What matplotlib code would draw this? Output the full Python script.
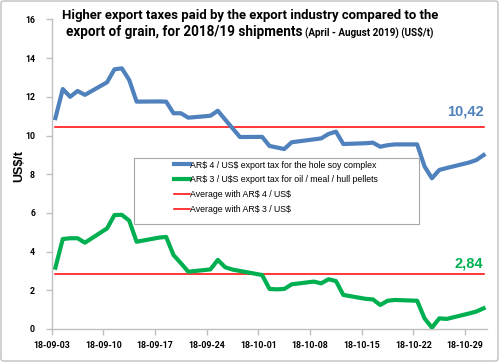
import matplotlib
matplotlib.use("Agg")
import matplotlib.pyplot as plt
import matplotlib.dates as mdates
from matplotlib import font_manager
from matplotlib.patches import Rectangle, FancyBboxPatch
import pandas as pd

plt.rcParams["text.parse_math"] = False

# ---------------- data ----------------
dates = ["2018-09-03", "2018-09-04", "2018-09-05", "2018-09-06", "2018-09-07",
         "2018-09-10", "2018-09-11", "2018-09-12", "2018-09-13", "2018-09-14",
         "2018-09-17", "2018-09-18", "2018-09-19", "2018-09-20", "2018-09-21",
         "2018-09-24", "2018-09-25", "2018-09-26", "2018-09-27", "2018-09-28",
         "2018-10-01", "2018-10-02", "2018-10-03", "2018-10-04", "2018-10-05",
         "2018-10-08", "2018-10-09", "2018-10-10", "2018-10-11", "2018-10-12",
         "2018-10-15", "2018-10-16", "2018-10-17", "2018-10-18", "2018-10-19",
         "2018-10-22", "2018-10-23", "2018-10-24", "2018-10-25", "2018-10-26",
         "2018-10-29", "2018-10-30", "2018-10-31"]

soy_complex = [10.9, 12.4, 12.0, 12.3, 12.1,
               12.75, 13.42, 13.47, 12.87, 11.75,
               11.76, 11.75, 11.15, 11.15, 10.92,
               11.02, 11.28, 10.82, 10.37, 9.92,
               9.93, 9.46, 9.38, 9.30, 9.65,
               9.80, 9.85, 10.08, 10.20, 9.56,
               9.60, 9.63, 9.42, 9.50, 9.54,
               9.54, 8.40, 7.79, 8.22, 8.32,
               8.60, 8.73, 8.99]

oil_meal_pellets = [3.17, 4.65, 4.69, 4.69, 4.46,
                    5.20, 5.89, 5.90, 5.60, 4.51,
                    4.72, 4.76, 3.82, 3.40, 2.96,
                    3.08, 3.57, 3.19, 3.07, 3.00,
                    2.79, 2.07, 2.05, 2.07, 2.31,
                    2.45, 2.36, 2.57, 2.48, 1.76,
                    1.56, 1.53, 1.24, 1.46, 1.50,
                    1.46, 0.55, 0.07, 0.55, 0.52,
                    0.80, 0.90, 1.07]

avg_soy = 10.42
avg_oil = 2.84

series_labels = ["AR$ 4 / US$ export tax for the hole soy complex",
                 "AR$ 3 / U$S export tax for oil / meal / hull pellets",
                 "Average with AR$ 4 / US$",
                 "Average with AR$ 3 / US$"]

title_line1 = "Higher export taxes paid by the export industry compared to the"
title_line2a = "export of grain, for 2018/19 shipments"
title_line2b = "(April - August 2019) (US$/t)"
y_label = "US$/t"

# ---------------- fonts ----------------
names = {f.name for f in font_manager.fontManager.ttflist}
NARROW = "Roboto" if "Roboto" in names else "DejaVu Sans"
ARIAL = "Liberation Sans" if "Liberation Sans" in names else "DejaVu Sans"

BLUE = "#4F81BD"
GREEN = "#00B050"
RED = "#FF0000"
GREY = "#A6A6A6"

W, H = 500, 363
fig = plt.figure(figsize=(W / 100, H / 100), dpi=100)
fig.patch.set_facecolor("white")
renderer = fig.canvas.get_renderer()


def fx(px):
    return px / W


def fy(py):
    return 1 - py / H


def fit_size(s, target_px, family, weight="bold", base=10.0):
    t = fig.text(0, 0, s, fontsize=base, family=family, fontweight=weight)
    w = t.get_window_extent(renderer).width
    t.remove()
    return base * target_px / w


ax = fig.add_axes([fx(51.7), fy(329), fx(487.3) - fx(51.7), fy(19.4) - fy(329)])

x = pd.to_datetime(dates) + pd.Timedelta(hours=12)

l1, = ax.plot(x, soy_complex, color=BLUE, lw=3.0, solid_joinstyle="round", zorder=3)
l2, = ax.plot(x, oil_meal_pellets, color=GREEN, lw=3.0, solid_joinstyle="round", zorder=3)
l3, = ax.plot([x[0], x[-1]], [avg_soy, avg_soy], color=RED, lw=1.1, zorder=2)
l4, = ax.plot([x[0], x[-1]], [avg_oil, avg_oil], color=RED, lw=1.1, zorder=2)

ax.set_ylim(0, 16)
ax.set_yticks(range(0, 17, 2))
ax.set_xlim(pd.Timestamp("2018-09-03"), pd.Timestamp("2018-11-01"))
ax.xaxis.set_major_locator(mdates.WeekdayLocator(byweekday=mdates.MO))
ax.xaxis.set_major_formatter(mdates.DateFormatter("%y-%m-%d"))

for s in ["top", "right"]:
    ax.spines[s].set_visible(False)
for s in ["left", "bottom"]:
    ax.spines[s].set_color("#BFBFBF")
    ax.spines[s].set_linewidth(1.0)
ax.tick_params(axis="both", colors="#BFBFBF", length=4, width=1.0, labelcolor="black")
ax.tick_params(axis="y", pad=8)
ax.tick_params(axis="x", pad=5)

tick_fs = fit_size("18-09-03", 37, NARROW)
for lab in ax.get_xticklabels() + ax.get_yticklabels():
    lab.set_fontweight("bold")
    lab.set_fontsize(tick_fs)
    lab.set_family(NARROW)

fig.text(fx(19), fy(166), y_label, rotation=90, ha="center", va="center",
         fontsize=9, fontweight="bold", family=ARIAL)

# average value labels
ax.text(x[-1], avg_soy + 0.8, f"{avg_soy:.2f}".replace(".", ","), color=BLUE,
        fontsize=10.5, fontweight="bold", ha="right", va="center", family=ARIAL)
ax.text(x[-1], avg_oil + 0.55, f"{avg_oil:.2f}".replace(".", ","), color=GREEN,
        fontsize=10.5, fontweight="bold", ha="right", va="center", family=ARIAL)

# legend box + legend
box = Rectangle((fx(134), fy(224)), fx(419) - fx(134), fy(158) - fy(224),
                transform=fig.transFigure, facecolor="white", edgecolor=GREY,
                lw=0.8, zorder=4, clip_on=False)
ax.add_patch(box)
leg_fs = fit_size(series_labels[1], 189, ARIAL, weight="normal")
leg = ax.legend([l1, l2, l3, l4], series_labels, loc="upper left",
                bbox_to_anchor=(fx(174), fy(160.5)), bbox_transform=fig.transFigure,
                frameon=False, borderpad=0, borderaxespad=0, handlelength=1.85,
                handletextpad=0.0, labelspacing=0.68,
                prop=dict(family=ARIAL, size=leg_fs))
leg.set_zorder(5)

# title (sizes fitted to the reference widths)
fs1 = fit_size(title_line1, 376, NARROW)
fs2a = fit_size(title_line2a, 237, NARROW)
fs2b = fit_size(title_line2b, 128, NARROW)
fig.text(0.5, fy(19), title_line1, ha="center", va="baseline", fontsize=fs1,
         fontweight="bold", family=NARROW)
fig.text(fx(302), fy(36), title_line2a, ha="right", va="baseline", fontsize=fs2a,
         fontweight="bold", family=NARROW)
fig.text(fx(305), fy(36), title_line2b, ha="left", va="baseline", fontsize=fs2b,
         fontweight="bold", family=NARROW)

# chart border
border = FancyBboxPatch((fx(1), fy(361)), fx(498) - fx(1), fy(1) - fy(361),
                        boxstyle="round,pad=0,rounding_size=0.006",
                        transform=fig.transFigure, facecolor="none",
                        edgecolor="#BFBFBF", lw=1.0)
fig.patches.append(border)

fig.savefig("out.png", dpi=100)
